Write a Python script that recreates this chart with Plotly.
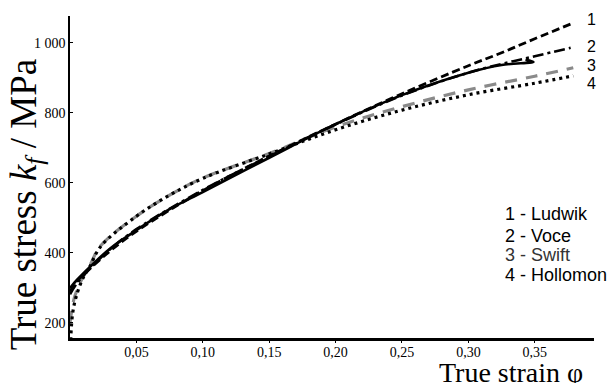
import plotly.graph_objects as go

# ---- data ----
exp_phi = [0.0, 0.005, 0.015, 0.03, 0.05, 0.075, 0.10, 0.15, 0.20, 0.25, 0.30, 0.325, 0.349, 0.343]
exp_kf  = [300, 322, 360, 412, 465, 525, 574, 672, 768, 851, 915, 937, 946, 952]

ludwik_phi = [0.0, 0.005, 0.015, 0.03, 0.05, 0.10, 0.15, 0.20, 0.25, 0.30, 0.325, 0.35, 0.379]
ludwik_kf  = [290, 318, 355, 405, 462, 578, 677, 768, 855, 935, 972, 1012, 1057]

voce_phi = [0.0, 0.005, 0.015, 0.03, 0.05, 0.10, 0.15, 0.20, 0.25, 0.30, 0.325, 0.35, 0.377]
voce_kf  = [282, 312, 355, 410, 468, 580, 676, 767, 850, 915, 940, 962, 986]

swift_phi = [0.0, 0.003, 0.008, 0.015, 0.023, 0.05, 0.075, 0.10, 0.15, 0.20, 0.25, 0.30, 0.35, 0.379]
swift_kf  = [200, 268, 318, 365, 420, 505, 565, 614, 684, 760, 818, 866, 905, 929]

hollomon_phi = [0.0005, 0.002, 0.005, 0.01, 0.015, 0.023, 0.05, 0.075, 0.10, 0.15, 0.20, 0.25, 0.30, 0.35, 0.379]
hollomon_kf  = [150, 228, 280, 330, 362, 418, 505, 565, 613, 683, 752, 808, 852, 885, 906]

x_tickvals = [0.05, 0.10, 0.15, 0.20, 0.25, 0.30, 0.35]
x_ticktext = ["0,05", "0,10", "0,15", "0,20", "0,25", "0,30", "0,35"]
y_tickvals = [200, 400, 600, 800, 1000]
y_ticktext = ["200", "400", "600", "800", "1 000"]

curve_numbers = ["1", "2", "3", "4"]
legend_lines = ["1 - Ludwik", "2 - Voce", "3 - Swift", "4 - Hollomon"]

fig = go.Figure()

fig.add_trace(go.Scatter(x=swift_phi, y=swift_kf, mode="lines",
                         line=dict(color="#8a8a8a", width=3.2, dash="12px,9px", shape="spline"),
                         name="Swift"))
fig.add_trace(go.Scatter(x=hollomon_phi, y=hollomon_kf, mode="lines",
                         line=dict(color="black", width=3.2, dash="3px,4px", shape="spline"),
                         name="Hollomon"))
fig.add_trace(go.Scatter(x=voce_phi, y=voce_kf, mode="lines",
                         line=dict(color="black", width=2.6, dash="11px,4px,3px,4px", shape="spline"),
                         name="Voce"))
fig.add_trace(go.Scatter(x=ludwik_phi, y=ludwik_kf, mode="lines",
                         line=dict(color="black", width=2.8, dash="8px,4px", shape="spline"),
                         name="Ludwik"))
fig.add_trace(go.Scatter(x=exp_phi, y=exp_kf, mode="lines",
                         line=dict(color="black", width=2.6, shape="spline"),
                         name="Experiment"))

serif = "Liberation Serif, Times New Roman, serif"
sans = "Liberation Sans, Arial, sans-serif"

fig.update_layout(
    width=611, height=383,
    margin=dict(l=70, r=17, t=16, b=45),
    paper_bgcolor="white", plot_bgcolor="white",
    showlegend=False,
    xaxis=dict(range=[0, 0.3946], showgrid=False, zeroline=False,
               showline=True, linecolor="black", linewidth=2.5,
               tickvals=x_tickvals, ticktext=x_ticktext,
               ticks="outside", ticklen=2, tickwidth=1, tickcolor="black",
               ticklabelstandoff=-3,
               tickfont=dict(family=serif, size=14, color="black")),
    yaxis=dict(range=[157, 1077], showgrid=False, zeroline=False,
               showline=True, linecolor="black", linewidth=1.5,
               tickvals=y_tickvals, ticktext=y_ticktext,
               ticks="inside", ticklen=3, tickwidth=1, tickcolor="black",
               tickfont=dict(family=serif, size=14, color="black")),
)

annotations = []
# axis titles
annotations.append(dict(text="True stress <i>k<sub>f</sub></i> / MPa", xref="paper", yref="paper",
                        x=-0.084, y=0.415, xanchor="center", yanchor="middle", textangle=-90,
                        showarrow=False, font=dict(family=serif, size=37, color="black")))
annotations.append(dict(text="True strain φ", xref="paper", yref="paper",
                        x=0.983, y=-0.106, xanchor="right", yanchor="middle",
                        showarrow=False, font=dict(family=serif, size=28, color="black")))
# curve numbers at line ends
num_y = [1066, 991, 937, 884]
for t, yv in zip(curve_numbers, num_y):
    annotations.append(dict(text=t, x=0.3875, y=yv, xref="x", yref="y", xanchor="left",
                            yanchor="middle", showarrow=False,
                            font=dict(family=sans, size=16, color="black")))
# legend text block
leg_y = [0.384, 0.316, 0.259, 0.197]
leg_col = ["black", "black", "#333333", "black"]
for t, yv, c in zip(legend_lines, leg_y, leg_col):
    annotations.append(dict(text=t, x=0.826, y=yv, xref="paper", yref="paper", xanchor="left",
                            yanchor="middle", showarrow=False,
                            font=dict(family=sans, size=18, color=c)))
fig.update_layout(annotations=annotations)

fig.write_html("out.html", config={"displayModeBar": False})

# remove the default page margin so the figure sits at the top-left corner
with open("out.html", "r", encoding="utf-8") as f:
    html = f.read()
html = html.replace("<body>", '<body style="margin:0;padding:0;overflow:hidden">', 1)
with open("out.html", "w", encoding="utf-8") as f:
    f.write(html)
